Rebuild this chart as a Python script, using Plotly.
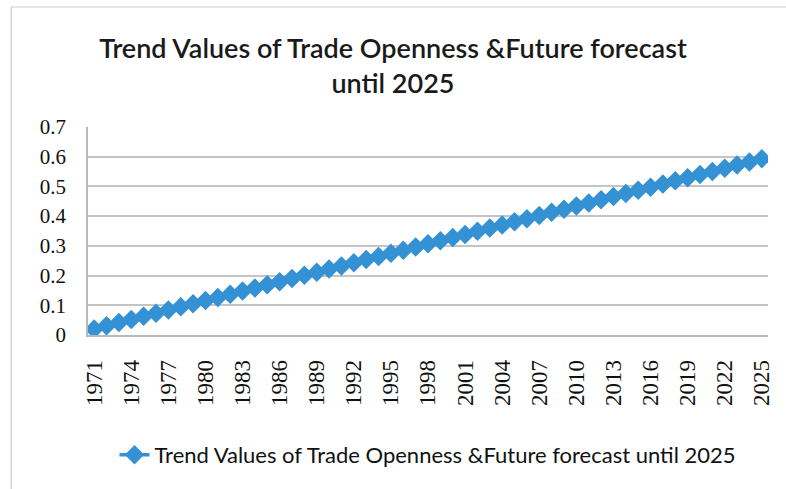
import plotly.graph_objects as go

# Years 1971-2025 and the fitted trend of trade openness
years = [str(y) for y in range(1971, 2026)]
trend_values = [
    0.020, 0.031, 0.042, 0.052, 0.063, 0.073, 0.084, 0.095, 0.105, 0.116,
    0.126, 0.137, 0.148, 0.158, 0.169, 0.179, 0.190, 0.201, 0.211, 0.222,
    0.232, 0.243, 0.254, 0.264, 0.275, 0.285, 0.296, 0.307, 0.317, 0.328,
    0.338, 0.349, 0.360, 0.370, 0.381, 0.391, 0.402, 0.413, 0.423, 0.434,
    0.444, 0.455, 0.466, 0.476, 0.487, 0.497, 0.508, 0.519, 0.529, 0.540,
    0.550, 0.561, 0.572, 0.582, 0.593,
]
tick_years = years[::3]
y_ticks = [0, 0.1, 0.2, 0.3, 0.4, 0.5, 0.6, 0.7]
y_tick_text = ["0", "0.1", "0.2", "0.3", "0.4", "0.5", "0.6", "0.7"]

series_name = "Trend Values of Trade Openness &Future forecast until 2025"
blue = "rgb(52,146,212)"

fig = go.Figure()
fig.add_trace(go.Scatter(
    x=years,
    y=trend_values,
    mode="lines+markers",
    name=series_name,
    line=dict(color=blue, width=3.5),
    marker=dict(symbol="diamond", size=15, color=blue),
))

fig.update_layout(
    width=786,
    height=489,
    margin=dict(l=88, r=16, t=127, b=154),
    paper_bgcolor="white",
    plot_bgcolor="white",
    title=dict(
        text="Trend Values of Trade Openness &Future forecast<br>until 2025",
        x=0.5,
        xanchor="center",
        y=1 - 58 / 489,
        yanchor="middle",
        font=dict(family="Lato", size=27, color="#1a1a1a", weight=600),
    ),
    xaxis=dict(
        type="category",
        range=[-0.5, len(years) - 0.5],
        tickmode="array",
        tickvals=tick_years,
        ticktext=tick_years,
        tickangle=-90,
        tickfont=dict(family="Liberation Serif", size=23, color="#111111"),
        showgrid=False,
        showline=True,
        linecolor="#b8b8b8",
        linewidth=1.5,
        ticks="outside",
        ticklen=14,
        tickcolor="rgba(0,0,0,0)",
    ),
    yaxis=dict(
        range=[0, 0.7],
        tickmode="array",
        tickvals=y_ticks,
        ticktext=y_tick_text,
        tickfont=dict(family="Liberation Serif", size=21, color="#111111"),
        showgrid=True,
        gridcolor="#c4c4c4",
        gridwidth=1.5,
        showline=True,
        linecolor="#b8b8b8",
        linewidth=1.5,
        zeroline=False,
        ticks="outside",
        ticklen=16,
        tickcolor="rgba(0,0,0,0)",
    ),
    showlegend=True,
    legend=dict(
        orientation="h",
        x=0.5,
        xanchor="center",
        y=(335 - 455) / 208,
        yanchor="middle",
        font=dict(family="Lato", size=22, color="#111111"),
        bgcolor="rgba(0,0,0,0)",
    ),
    shapes=[
        dict(
            type="rect",
            xref="paper",
            yref="paper",
            x0=(11 - 88) / 682,
            x1=(800 - 88) / 682,
            y0=(335 - 500) / 208,
            y1=(335 - 7) / 208,
            line=dict(color="#cccccc", width=1.2),
            layer="below",
        )
    ],
)

fig.write_html("out.html")
